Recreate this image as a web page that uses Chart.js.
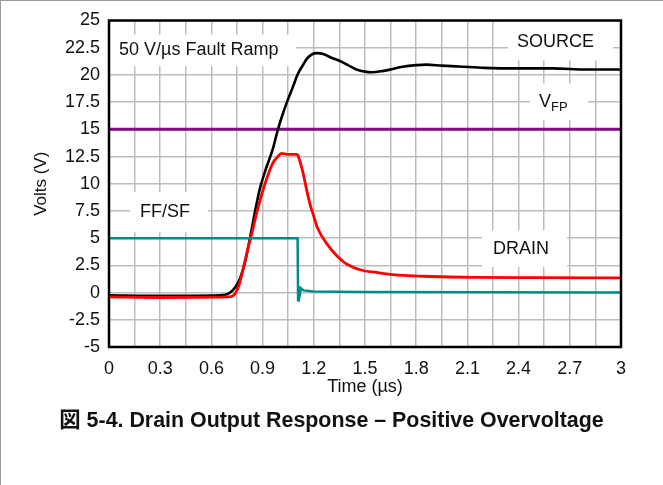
<!DOCTYPE html>
<html>
<head>
<meta charset="utf-8">
<script src="https://cdn.jsdelivr.net/npm/chart.js@4"></script>
<style>
  html, body { margin: 0; padding: 0; background: #fff; }
  #page { position: relative; width: 663px; height: 485px; overflow: hidden; }
  #frame { position: absolute; left: 0; top: 0; width: 700px; height: 600px; border-top: 1px solid #9a9a9a; border-left: 1px solid #9a9a9a; }
  #wrap { position: absolute; left: 0; top: 0; width: 663px; height: 485px; }
  #caption { position: absolute; left: 0; width: 663px; top: 402px; text-align: center;
             font: bold 21.4px "Liberation Sans", Arial, "Noto Sans CJK JP", sans-serif; color: #111; }
</style>
</head>
<body>
<div id="page">
  <div id="frame"></div>
  <div id="wrap"><canvas id="c"></canvas></div>
  <div id="caption">図 5-4. Drain Output Response – Positive Overvoltage</div>
</div>
<script>
// values (time in µs, volts)
var sourceT = [0, 0.3, 0.65, 0.70, 0.74, 0.77, 0.80, 0.826, 0.86, 0.885, 0.92, 0.96, 0.99, 1.02, 1.05, 1.08, 1.107, 1.14, 1.16, 1.19, 1.22, 1.26, 1.30, 1.35, 1.40, 1.45, 1.50, 1.54, 1.60, 1.65, 1.72, 1.80, 1.86, 1.95, 2.05, 2.2, 2.4, 2.6, 2.8, 3.0];
var sourceV = [-0.25, -0.3, -0.25, -0.1, 0.5, 1.4, 3.0, 5.0, 7.8, 9.6, 11.4, 13.2, 15.0, 16.5, 17.8, 19.0, 20.1, 21.0, 21.5, 21.9, 22.0, 21.9, 21.6, 21.3, 20.9, 20.5, 20.3, 20.25, 20.35, 20.5, 20.75, 20.9, 20.95, 20.85, 20.78, 20.65, 20.6, 20.6, 20.5, 20.5];

var drainT = [0, 0.3, 0.7, 0.73, 0.76, 0.785, 0.81, 0.83, 0.87, 0.914, 0.96, 0.99, 1.01, 1.05, 1.10, 1.107, 1.12, 1.137, 1.16, 1.18, 1.20, 1.22, 1.28, 1.38, 1.47, 1.57, 1.70, 1.84, 2.13, 2.5, 3.0];
var drainV = [-0.4, -0.45, -0.4, -0.25, 0.6, 2.1, 3.8, 5.0, 7.6, 10.0, 11.9, 12.5, 12.8, 12.7, 12.7, 12.6, 12.0, 11.0, 9.3, 8.0, 7.0, 6.0, 4.4, 2.75, 2.1, 1.85, 1.6, 1.5, 1.4, 1.38, 1.35];

var flagT = [0, 1.105, 1.108, 1.112, 1.118, 1.125, 1.14, 1.2, 1.5, 3.0];
var flagV = [5.0, 5.0, -0.7, 0.6, -0.2, 0.4, 0.2, 0.1, 0.05, 0.0];

var vfpT = [0, 3];
var vfpV = [15, 15];

var xMin = 0, xMax = 3, xStep = 0.15;
var yMin = -5, yMax = 25, yStep = 2.5;

// text labels in data units, each with its white box [x0, x1, y0, y1]
var notes = [
  { text: "50 V/\u00b5s Fault Ramp", x: 0.059, y: 22.3, box: [0, 1.096, 20.8, 23.7] },
  { text: "SOURCE", x: 2.39, y: 23.03, box: [2.338, 2.953, 21.33, 25] },
  { text: "V", sub: "FP", x: 2.52, y: 17.5, box: [2.467, 2.807, 15.83, 19.22] },
  { text: "FF/SF", x: 0.182, y: 7.39, box: [0.123, 0.58, 5.55, 9.22] },
  { text: "DRAIN", x: 2.25, y: 3.99, box: [2.186, 2.684, 2.34, 5.73] }
];

function pts(t, v) {
  var a = [];
  for (var i = 0; i < t.length; i++) a.push({ x: t[i], y: v[i] });
  return a;
}

var FONT = '"Liberation Sans", Arial, sans-serif';

var notesPlugin = {
  id: "notes",
  beforeDatasetsDraw: function(chart) {
    var ctx = chart.ctx, xs = chart.scales.x, ys = chart.scales.y;
    ctx.save();
    notes.forEach(function(n) {
      var x0 = xs.getPixelForValue(n.box[0]), x1 = xs.getPixelForValue(n.box[1]);
      var y0 = ys.getPixelForValue(n.box[3]), y1 = ys.getPixelForValue(n.box[2]);
      ctx.fillStyle = "#fff";
      ctx.fillRect(x0, y0, x1 - x0, y1 - y0);
      var tx = xs.getPixelForValue(n.x), ty = ys.getPixelForValue(n.y);
      ctx.fillStyle = "#111";
      ctx.textBaseline = "middle";
      ctx.textAlign = "left";
      ctx.font = "18px " + FONT;
      ctx.fillText(n.text, tx, ty);
      if (n.sub) {
        var w = ctx.measureText(n.text).width;
        ctx.font = "13px " + FONT;
        ctx.fillText(n.sub, tx + w, ty + 5);
      }
    });
    ctx.restore();
  },
  afterDraw: function(chart) {
    var a = chart.chartArea, ctx = chart.ctx;
    ctx.save();
    ctx.strokeStyle = "#000";
    ctx.lineWidth = 2.5;
    ctx.strokeRect(a.left, a.top, a.right - a.left, a.bottom - a.top);
    ctx.restore();
  }
};

new Chart(document.getElementById("c").getContext("2d"), {
  type: "line",
  data: {
    datasets: [
      { label: "FF/SF", data: pts(flagT, flagV), borderColor: "#008a8a", borderWidth: 2.5, pointRadius: 0, tension: 0 },
      { label: "DRAIN", data: pts(drainT, drainV), borderColor: "#ff0000", borderWidth: 2.8, pointRadius: 0, cubicInterpolationMode: "monotone" },
      { label: "SOURCE", data: pts(sourceT, sourceV), borderColor: "#000000", borderWidth: 2.6, pointRadius: 0, cubicInterpolationMode: "monotone" },
      { label: "VFP", data: pts(vfpT, vfpV), borderColor: "#850a85", borderWidth: 3, pointRadius: 0 }
    ]
  },
  options: {
    responsive: true,
    maintainAspectRatio: false,
    animation: false,
    events: [],
    layout: { padding: { left: 0, top: 20.5, right: 42, bottom: 86 } },
    plugins: { legend: { display: false }, tooltip: { enabled: false } },
    scales: {
      x: {
        type: "linear", min: xMin, max: xMax,
        grid: { color: "#bdbdbd", lineWidth: 1.5, drawTicks: false },
        border: { display: false },
        ticks: {
          stepSize: xStep, autoSkip: false, maxRotation: 0, padding: 11,
          color: "#111", font: { family: FONT, size: 18 },
          callback: function(v, i) { return i % 2 === 0 ? String(Number(v.toFixed(2))) : ""; }
        },
        title: { display: true, text: "Time (\u00b5s)", color: "#111", font: { family: FONT, size: 18, lineHeight: 1.2 }, padding: { top: 0, bottom: 1 } },
        afterFit: function(s) { s.height = 52; }
      },
      y: {
        min: yMin, max: yMax,
        grid: { color: "#bdbdbd", lineWidth: 1.5, drawTicks: false },
        border: { display: false },
        ticks: {
          stepSize: yStep, autoSkip: false, padding: 9,
          color: "#111", font: { family: FONT, size: 18 },
          callback: function(v) { return String(v); }
        },
        title: { display: true, text: "Volts (V)", color: "#111", font: { family: FONT, size: 17, lineHeight: 1.2 }, padding: { top: 31, bottom: 0 } },
        afterFit: function(s) { s.width = 109; }
      }
    }
  },
  plugins: [notesPlugin]
});
</script>
</body>
</html>
